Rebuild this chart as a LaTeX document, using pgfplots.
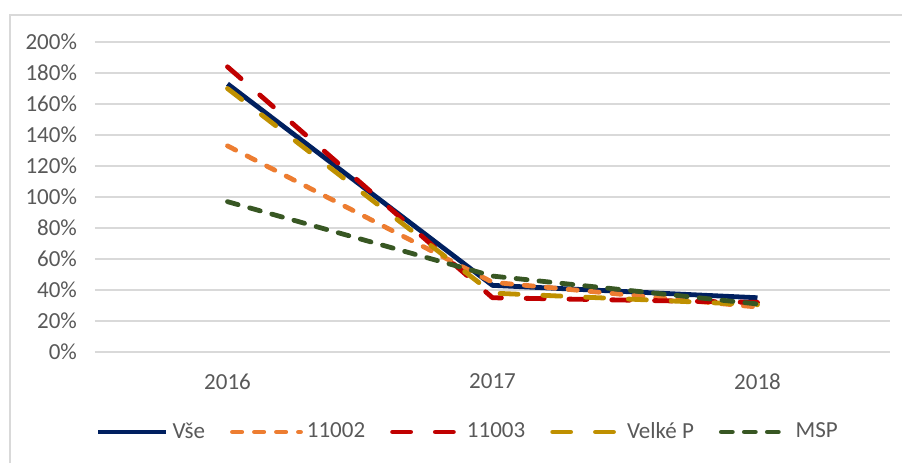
\documentclass[border=0pt]{standalone}
\usepackage{fontspec}
\setmainfont{Carlito}
\usepackage{pgfplots}
\pgfplotsset{compat=1.18}
\definecolor{cNavy}{HTML}{002060}
\definecolor{cOrange}{HTML}{ED7D31}
\definecolor{cRed}{HTML}{C00000}
\definecolor{cGold}{HTML}{BF9000}
\definecolor{cGreen}{HTML}{385723}
\definecolor{cGrid}{HTML}{D9D9D9}
\definecolor{cText}{HTML}{595959}
\begin{document}
\begin{tikzpicture}
\path[use as bounding box] (0,0) rectangle (451pt,231.5pt);
\draw[cGrid, line width=0.7pt] (5pt,0) -- (5pt,224pt) -- (451pt,224pt);
\begin{axis}[
  at={(47.5pt,55.5pt)}, anchor=south west,
  scale only axis, width=397.5pt, height=155pt,
  xmin=-0.5, xmax=2.5, ymin=0, ymax=200,
  xtick={0,1,2}, xticklabels={2016,2017,2018},
  ytick={0,20,...,200},
  yticklabel={\pgfmathprintnumber{\tick}\%},
  /pgf/number format/assume math mode=true,
  axis line style={draw=none},
  major tick length=0pt,
  ymajorgrids, grid style={cGrid, line width=0.75pt},
  tick label style={font=\fontsize{11.5}{13}\selectfont, text=cText},
  xticklabel style={yshift=-7.5pt},
  yticklabel style={xshift=-5.5pt},
  legend columns=5,
  legend style={draw=none, fill=none, font=\fontsize{11.5}{13}\selectfont, text=cText,
    at={(axis description cs:-0.007,-0.258)}, anchor=west,
    /tikz/every even column/.append style={column sep=10.5pt}},
  legend image code/.code={\draw[#1] (0pt,0pt) -- (34pt,0pt);},
  every axis plot/.append style={line width=2.4pt, line cap=round, line join=round},
]
\addplot[cNavy, solid, line cap=butt] coordinates {(0,173) (1,43) (2,35)};
\addlegendentry{Vše}
\addplot[cOrange, dash pattern=on 4.6pt off 6.4pt] coordinates {(0,133) (1,45) (2,29)};
\addlegendentry{11002}
\addplot[cRed, dash pattern=on 9pt off 12.4pt] coordinates {(0,184) (1,35) (2,32)};
\addlegendentry{11003}
\addplot[cGold, dash pattern=on 9pt off 12.4pt] coordinates {(0,170) (1,38) (2,30.5)};
\addlegendentry{Velké P}
\addplot[cGreen, dash pattern=on 5.5pt off 6pt] coordinates {(0,97) (1,49) (2,31)};
\addlegendentry{MSP}
\end{axis}
\end{tikzpicture}
\end{document}
